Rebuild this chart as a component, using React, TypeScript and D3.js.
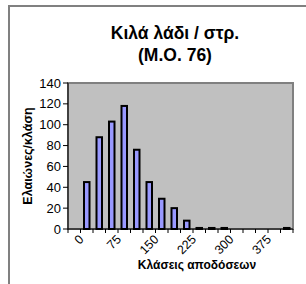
import React from "react";
import * as d3 from "d3";

// classes (kg/stremma) and number of olive groves per class
const classes = [0, 25, 50, 75, 100, 125, 150, 175, 200, 225, 250, 275, 300, 325, 350, 375, 400, 425];
const counts = [0, 45, 88, 103, 118, 76, 45, 29, 20, 8, 1, 1, 1, 0, 0, 0, 0, 1];
const yTicks = [0, 20, 40, 60, 80, 100, 120, 140];
const xLabels = [0, 75, 150, 225, 300, 375];

const W = 306;
const H = 284;
const left = 68, right = 293, top = 83, bottom = 229;
const font = "'Liberation Sans', Arial, sans-serif";

const App = () => {
  const x = d3.scaleBand<number>().domain(classes).range([left, right]).padding(0);
  const y = d3.scaleLinear().domain([0, 140]).range([bottom, top]);
  const bw = x.bandwidth() * 0.44;

  return (
    <svg width={W} height={H} style={{ position: "absolute", left: 0, top: 0, background: "#fff" }}>
      {/* chart frame */}
      <rect x={9} y={6} width={340} height={290} fill="#fff" stroke="#808080" strokeWidth={2} />
      <text x={175} y={39} textAnchor="middle" fontFamily={font} fontWeight="bold" fontSize={17.5}>
        Κιλά λάδι / στρ.
      </text>
      <text x={175} y={61} textAnchor="middle" fontFamily={font} fontWeight="bold" fontSize={17.5}>
        (Μ.Ο. 76)
      </text>

      {/* plot area */}
      <rect x={left} y={top} width={right - left} height={bottom - top} fill="#C0C0C0" stroke="#808080" strokeWidth={2} />

      {counts.map((c, i) =>
        c > 0 ? (
          <rect
            key={i}
            x={x(classes[i])! + (x.bandwidth() - bw) / 2}
            y={y(c)}
            width={bw}
            height={bottom - y(c)}
            fill="#9999FF"
            stroke="#000"
            strokeWidth={2}
          />
        ) : null
      )}

      {/* y axis */}
      <line x1={left} x2={left} y1={top} y2={bottom} stroke="#000" />
      {yTicks.map(t => (
        <g key={t}>
          <line x1={left - 5} x2={left} y1={y(t)} y2={y(t)} stroke="#000" />
          <text x={left - 7} y={y(t)} dy="0.35em" textAnchor="end" fontFamily={font} fontSize={13}>
            {t}
          </text>
        </g>
      ))}
      <text
        transform={`translate(32 ${(top + bottom) / 2}) rotate(-90)`}
        textAnchor="middle"
        fontFamily={font}
        fontWeight="bold"
        fontSize={12.5}
      >
        Ελαιώνες/κλάση
      </text>

      {/* x axis */}
      <line x1={left} x2={right} y1={bottom} y2={bottom} stroke="#000" />
      {classes.map(c => (
        <line key={c} x1={x(c)!} x2={x(c)!} y1={bottom} y2={bottom + 4} stroke="#000" />
      ))}
      <line x1={right} x2={right} y1={bottom} y2={bottom + 4} stroke="#000" />
      {xLabels.map(l => {
        const cx = x(l)! + x.bandwidth() / 2;
        return (
          <text
            key={l}
            transform={`translate(${cx + 4} ${bottom + 5}) rotate(-45)`}
            textAnchor="end"
            dy="0.7em"
            fontFamily={font}
            fontSize={12.5}
          >
            {l}
          </text>
        );
      })}
      <text x={197} y={269} textAnchor="middle" fontFamily={font} fontWeight="bold" fontSize={12}>
        Κλάσεις αποδόσεων
      </text>
    </svg>
  );
};

export default App;
